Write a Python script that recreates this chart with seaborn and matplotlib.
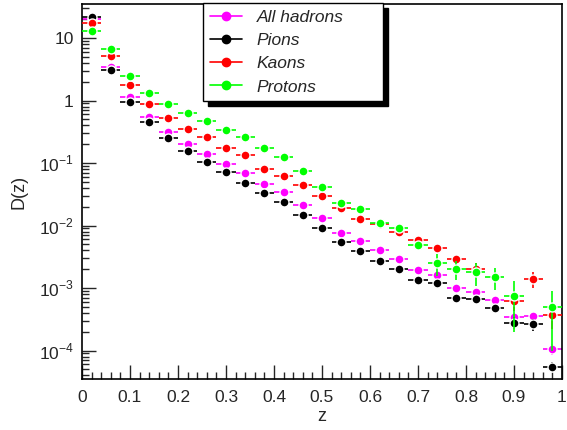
import numpy as np
import pandas as pd
import matplotlib
matplotlib.use("Agg")
import matplotlib.pyplot as plt
from matplotlib.lines import Line2D
from matplotlib.ticker import FixedLocator, LogLocator, NullFormatter, MultipleLocator
import seaborn as sns

# ---- data ----
z = [0.02, 0.06, 0.10, 0.14, 0.18, 0.22, 0.26, 0.30, 0.34, 0.38, 0.42, 0.46, 0.50,
     0.54, 0.58, 0.62, 0.66, 0.70, 0.74, 0.78, 0.82, 0.86, 0.90, 0.94, 0.98]

all_hadrons = [19.8, 3.49, 1.12, 0.54, 0.316, 0.20, 0.14, 0.0968, 0.0686, 0.0469, 0.0344,
               0.0216, 0.013, 0.0077, 0.0056, 0.0041, 0.00296, 0.00195, 0.00162, 0.00101,
               0.000853, 0.000635, 0.000344, 0.000352, 0.000105]
pions = [21.6, 3.09, 0.96, 0.447, 0.253, 0.156, 0.103, 0.0711, 0.0487, 0.0336, 0.0238,
         0.0149, 0.0091, 0.00535, 0.00394, 0.00275, 0.0020, 0.00136, 0.00119, 0.000684,
         0.000659, 0.000472, 0.000279, 0.000265, 0.000055]
kaons = [17.1, 5.1, 1.77, 0.89, 0.53, 0.352, 0.256, 0.175, 0.133, 0.0816, 0.062,
         0.044, 0.0293, 0.019, 0.0129, 0.0106, 0.00784, 0.00583, 0.0044, 0.00286,
         0.00205, np.nan, 0.000628, 0.0014, 0.000374]
protons = [12.9, 6.7, 2.5, 1.30, 0.87, 0.62, 0.469, 0.336, 0.262, 0.171, 0.127,
           0.0747, 0.0413, 0.0226, 0.0181, 0.0111, 0.00898, 0.0049, 0.00253, 0.00202,
           0.00179, 0.00152, 0.000746, np.nan, 0.000498]

err_all = [0.2, 0.03, 0.01, 0.005, 0.003, 0.002, 0.0014, 0.001, 0.0007, 0.0005, 0.0004,
           0.0003, 0.0002, 0.0001, 0.0001, 0.00008, 0.00007, 0.00006, 0.00006, 0.00005,
           0.00005, 0.00004, 0.00003, 0.00003, 0.00002]
err_pions = [0.2, 0.03, 0.01, 0.005, 0.003, 0.002, 0.0014, 0.001, 0.0007, 0.0005, 0.0004,
             0.0003, 0.0002, 0.0001, 0.0001, 0.00008, 0.00007, 0.00006, 0.00006, 0.00005,
             0.00005, 0.00004, 0.00006, 0.00006, 0.00001]
err_kaons = [0.3, 0.08, 0.03, 0.015, 0.01, 0.007, 0.005, 0.004, 0.003, 0.002, 0.0016,
             0.0012, 0.0009, 0.0007, 0.0005, 0.0004, 0.0004, 0.0004, 0.0004, 0.0005,
             0.0005, np.nan, 0.0002, 0.0004, 0.00015]
err_protons = [0.3, 0.1, 0.04, 0.02, 0.015, 0.012, 0.01, 0.008, 0.006, 0.005, 0.004,
               0.003, 0.002, 0.0015, 0.0012, 0.001, 0.0008, 0.0008, 0.001, 0.0007,
               0.0007, 0.0006, 0.00055, np.nan, 0.0004]

half_bin = [0.02] * len(z)

series_names = ["All hadrons", "Pions", "Kaons", "Protons"]
series_vals = [all_hadrons, pions, kaons, protons]
series_errs = [err_all, err_pions, err_kaons, err_protons]
colors = ["#ff00ff", "#000000", "#ff0000", "#00ff00"]

y_ticks = [1e-4, 1e-3, 1e-2, 1e-1, 1, 10]
y_tick_labels = ["10$^{\\mathregular{-4}}$", "10$^{\\mathregular{-3}}$",
                 "10$^{\\mathregular{-2}}$", "10$^{\\mathregular{-1}}$", "1", "10"]
x_ticks = [0, 0.1, 0.2, 0.3, 0.4, 0.5, 0.6, 0.7, 0.8, 0.9, 1.0]
x_tick_labels = ["0", "0.1", "0.2", "0.3", "0.4", "0.5", "0.6", "0.7", "0.8", "0.9", "1"]

# ---- build long table ----
frames = []
for name, vals, errs in zip(series_names, series_vals, series_errs):
    frames.append(pd.DataFrame({"z": z, "D": vals, "err": errs, "dz": half_bin,
                                "particle": name}))
df = pd.concat(frames, ignore_index=True)

sns.set_style("white")
plt.rcParams["font.family"] = ["Liberation Sans", "DejaVu Sans"]
plt.rcParams["mathtext.fontset"] = "custom"
plt.rcParams["mathtext.rm"] = "Liberation Sans"

fig = plt.figure(figsize=(5.67, 4.30), dpi=100)
ax = fig.add_axes([82 / 567, 1 - 379 / 430, 480 / 567, 375 / 430])

palette = dict(zip(series_names, colors))
for i, name in enumerate(series_names):
    sub = df[df["particle"] == name].dropna(subset=["D"])
    ax.errorbar(sub["z"], sub["D"], xerr=sub["dz"], yerr=sub["err"], fmt="none",
                ecolor=palette[name], elinewidth=1.2, capsize=0, zorder=2 + 2 * i)
    sns.scatterplot(data=sub, x="z", y="D", color=palette[name], s=42, marker="o",
                    edgecolor="white", linewidth=1.0, ax=ax, zorder=3 + 2 * i,
                    legend=False)

ax.set_yscale("log")
ax.set_xlim(0, 1)
ax.set_ylim(3.5e-5, 35)

ax.yaxis.set_major_locator(FixedLocator(y_ticks))
ax.set_yticklabels(y_tick_labels)
ax.yaxis.set_minor_locator(LogLocator(base=10, subs=np.arange(2, 10)))
ax.yaxis.set_minor_formatter(NullFormatter())
ax.xaxis.set_major_locator(FixedLocator(x_ticks))
ax.set_xticklabels(x_tick_labels)
ax.xaxis.set_minor_locator(MultipleLocator(0.02))

ax.tick_params(axis="both", which="major", direction="in", length=10, width=1.0,
               labelsize=12.5, top=False, right=False, bottom=True, left=True)
ax.tick_params(axis="both", which="minor", direction="in", length=5, width=1.0,
               top=False, right=False, bottom=True, left=True)
ax.tick_params(axis="x", which="major", pad=8)
ax.tick_params(axis="y", which="major", pad=6)

for sp in ax.spines.values():
    sp.set_color("black")
    sp.set_linewidth(1.2)
    sp.set_visible(True)

ax.set_xlabel("z", fontsize=13, labelpad=2)
ax.set_ylabel("D(z)", fontsize=13, labelpad=8)

handles = [Line2D([0], [0], color=c, marker="o", markersize=6, lw=1.2,
                  markeredgecolor=c) for c in colors]
leg = ax.legend(handles, series_names, loc="upper left", mode="expand",
                bbox_to_anchor=((203 - 82) / 480, (379 - 97) / 375, 180 / 480, 94 / 375),
                frameon=True, fancybox=False,
                shadow={"color": "black", "alpha": 1.0, "ox": 3.6, "oy": -3.6},
                edgecolor="black", framealpha=1.0, prop={"style": "italic", "size": 12.5},
                handlelength=1.85, handletextpad=0.85, labelspacing=0.46,
                borderpad=0.4, borderaxespad=0)
leg.get_frame().set_linewidth(1.0)

fig.savefig("out.png", dpi=100)
